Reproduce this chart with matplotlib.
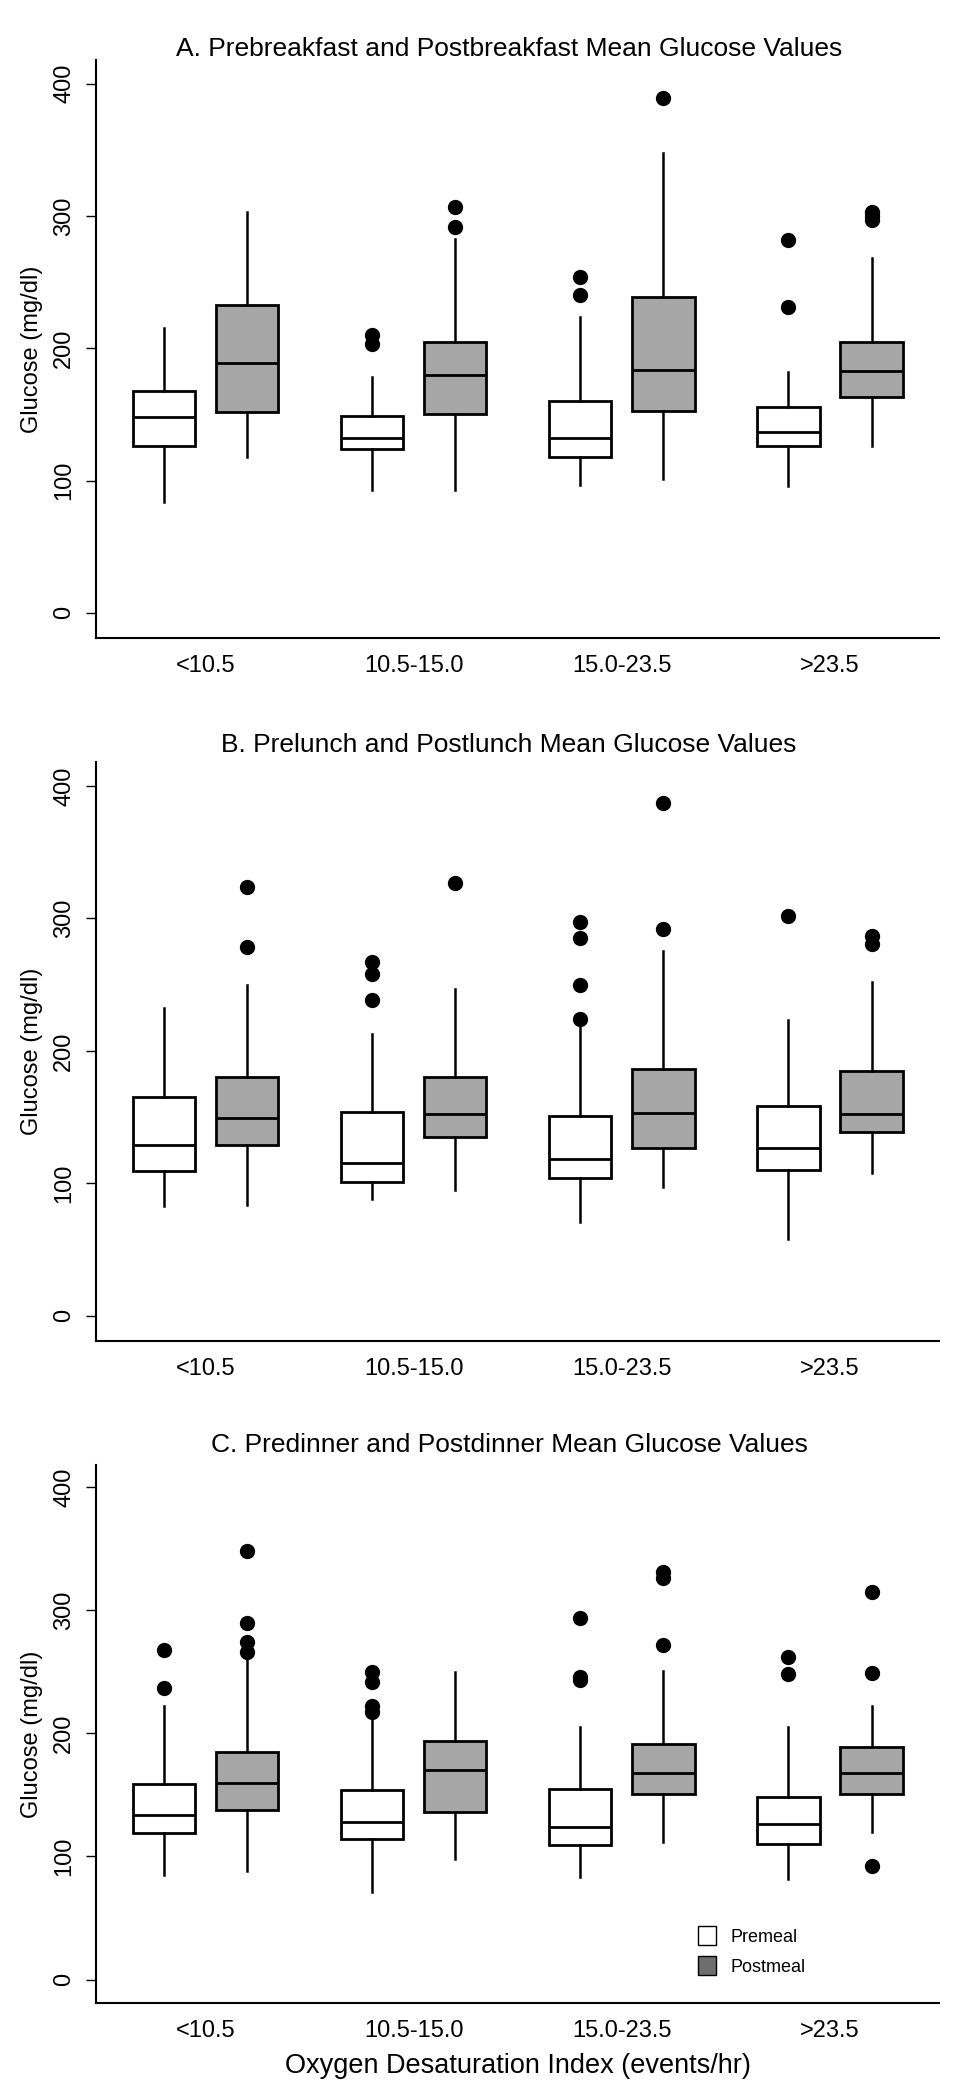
import numpy as np
import matplotlib.pyplot as plt
from matplotlib.patches import Patch

# categories on the x axis
categories = ['<10.5', '10.5-15.0', '15.0-23.5', '>23.5']

# box stats per group: [whisker low, q1, median, q3, whisker high]
# A. breakfast
a_pre = [[84, 126, 148, 168, 215], [93, 124, 132, 149, 178],
         [97, 118, 132, 160, 224], [96, 126, 137, 156, 182]]
a_pre_out = [[], [203, 210], [240, 254], [231, 282]]
a_post = [[118, 152, 189, 233, 303], [93, 150, 180, 205, 283],
          [101, 153, 184, 239, 348], [126, 163, 183, 205, 268]]
a_post_out = [[], [292, 307], [389], [297, 300, 303]]

# B. lunch
b_pre = [[83, 109, 129, 165, 232], [88, 101, 115, 154, 213],
         [71, 104, 118, 151, 220], [58, 110, 127, 158, 223]]
b_pre_out = [[], [238, 258, 267], [224, 250, 285, 297], [302]]
b_post = [[84, 129, 149, 180, 250], [95, 135, 152, 180, 247],
          [97, 127, 153, 186, 275], [108, 139, 152, 185, 252]]
b_post_out = [[278, 324], [327], [292, 387], [281, 287]]

# C. dinner
c_pre = [[85, 119, 134, 159, 222], [71, 114, 128, 154, 212],
         [83, 109, 124, 155, 205], [82, 110, 126, 148, 205]]
c_pre_out = [[237, 268], [217, 222, 242, 250], [243, 246, 294], [248, 262]]
c_post = [[88, 138, 160, 185, 262], [98, 136, 170, 194, 250],
          [112, 151, 168, 191, 251], [120, 151, 168, 189, 222]]
c_post_out = [[266, 274, 290, 348], [], [272, 326, 331], [92, 249, 315]]

titles = ['A. Prebreakfast and Postbreakfast Mean Glucose Values',
          'B. Prelunch and Postlunch Mean Glucose Values',
          'C. Predinner and Postdinner Mean Glucose Values']

yticks = [0, 100, 200, 300, 400]
pre_color = 'white'
post_color = '#a6a6a6'

W, H = 968, 2100
fig = plt.figure(figsize=(W / 100, H / 100), dpi=100)
plt.rcParams['font.family'] = ['Liberation Sans', 'DejaVu Sans']

# axes rectangles in pixels: (left, top, right, bottom)
rects = [(96, 60, 939, 638), (96, 762, 939, 1341), (96, 1465, 939, 2003)]
title_y = [49, 745, 1445]

panels = [(a_pre, a_pre_out, a_post, a_post_out),
          (b_pre, b_pre_out, b_post, b_post_out),
          (c_pre, c_pre_out, c_post, c_post_out)]


def make_stats(vals, outs):
    return [dict(whislo=v[0], q1=v[1], med=v[2], q3=v[3], whishi=v[4], fliers=o)
            for v, o in zip(vals, outs)]


pos = np.arange(1, len(categories) + 1)
for i, (pre, pre_out, post, post_out) in enumerate(panels):
    l, t, r, b = rects[i]
    ax = fig.add_axes([l / W, 1 - b / H, (r - l) / W, (b - t) / H])
    for vals, outs, off, col in [(pre, pre_out, -0.2, pre_color),
                                 (post, post_out, 0.2, post_color)]:
        ax.bxp(make_stats(vals, outs), positions=pos + off, widths=0.3,
               showcaps=False, patch_artist=True, manage_ticks=False,
               boxprops=dict(facecolor=col, edgecolor='black', linewidth=2),
               medianprops=dict(color='black', linewidth=2),
               whiskerprops=dict(color='black', linewidth=1.8),
               flierprops=dict(marker='o', markerfacecolor='black',
                               markeredgecolor='black', markersize=10))
    ax.set_xlim(0.474, 4.524)
    ax.set_ylim(-19, 418)
    ax.set_yticks(yticks, labels=[str(v) for v in yticks], fontsize=17,
                  rotation=90, va='center')
    ax.set_xticks(pos, labels=categories, fontsize=17)
    ax.tick_params(axis='x', length=0, pad=12)
    ax.tick_params(axis='y', length=7, width=1, pad=8)
    ax.spines['top'].set_visible(False)
    ax.spines['right'].set_visible(False)
    ax.spines['left'].set_linewidth(1.5)
    ax.spines['bottom'].set_linewidth(1.5)
    ax.set_ylabel('Glucose (mg/dl)', fontsize=17)
    ax.yaxis.set_label_coords(-0.063, 0.5)
    fig.text(0.526, 1 - title_y[i] / H, titles[i], fontsize=19,
             ha='center', va='center')

ax.set_xlabel('Oxygen Desaturation Index (events/hr)', fontsize=19.5,
              labelpad=8)

handles = [Patch(facecolor='white', edgecolor='black', label='Premeal'),
           Patch(facecolor='#6e6e6e', edgecolor='black', label='Postmeal')]
fig.legend(handles=handles, loc='upper left', frameon=False,
           bbox_to_anchor=(682 / W, 1 - 1910 / H), prop=dict(size=13),
           handlelength=1.0, handleheight=1.2, handletextpad=0.8, labelspacing=0.6)

fig.savefig('out.png', dpi=100)
